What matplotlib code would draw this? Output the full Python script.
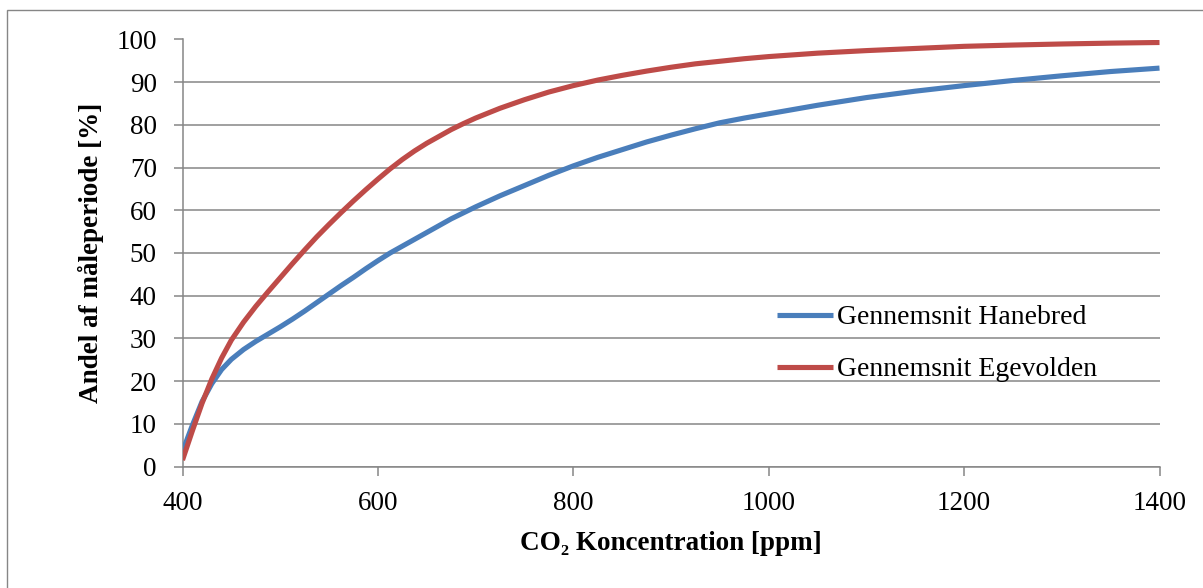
import matplotlib
matplotlib.use("Agg")
import matplotlib.pyplot as plt
from matplotlib.patches import Rectangle

# Data
co2_ppm = [400, 410, 420, 430, 440, 450, 462.5, 475, 487.5, 500, 512.5, 525, 537.5,
           550, 562.5, 575, 587.5, 600, 612.5, 625, 637.5, 650, 662.5, 675, 687.5,
           700, 725, 750, 775, 800, 825, 850, 875, 900, 925, 950, 975, 1000,
           1050, 1100, 1150, 1200, 1250, 1300, 1350, 1400]
hanebred = [3.5, 9.6, 15.2, 19.4, 22.7, 25.1, 27.4, 29.3, 31.0, 32.7, 34.5, 36.4, 38.4,
            40.4, 42.4, 44.3, 46.3, 48.2, 50.0, 51.6, 53.2, 54.8, 56.4, 58.0, 59.4,
            60.8, 63.4, 65.8, 68.2, 70.4, 72.4, 74.2, 76.0, 77.6, 79.1, 80.5, 81.6, 82.6,
            84.6, 86.4, 87.9, 89.2, 90.4, 91.5, 92.5, 93.3]
egevolden = [1.5, 8.3, 14.8, 20.5, 25.4, 29.6, 33.8, 37.5, 40.9, 44.2, 47.5, 50.7, 53.8,
             56.7, 59.5, 62.2, 64.8, 67.3, 69.7, 71.9, 73.9, 75.7, 77.3, 78.9, 80.3,
             81.6, 83.9, 85.9, 87.7, 89.2, 90.5, 91.6, 92.6, 93.5, 94.3, 94.9, 95.5, 96.0,
             96.8, 97.4, 97.9, 98.4, 98.7, 98.95, 99.15, 99.3]

series_names = ["Gennemsnit Hanebred", "Gennemsnit Egevolden"]
series_colors = ["#4A7EBB", "#BE4B48"]
x_ticks = [400, 600, 800, 1000, 1200, 1400]
y_ticks = list(range(0, 101, 10))

plt.rcParams['font.family'] = ['Liberation Serif', 'DejaVu Serif']

W, H = 1203, 588
fig = plt.figure(figsize=(W / 100, H / 100), dpi=100)
x0, x1, y0, y1 = 182.5, 1159.5, 466.5, 39.5
ax = fig.add_axes([x0 / W, 1 - y0 / H, (x1 - x0) / W, (y0 - y1) / H])

grid_c = "#868686"
for v in y_ticks:
    ax.axhline(v, color=grid_c, lw=1.1, zorder=1)

for y, name, c in zip([hanebred, egevolden], series_names, series_colors):
    ax.plot(co2_ppm, y, color=c, lw=3.7, label=name, zorder=3,
            solid_capstyle='butt', solid_joinstyle='round')

ax.set_xlim(400, 1400)
ax.set_ylim(0, 100)
ax.set_xticks(x_ticks)
ax.set_yticks(y_ticks)
ax.set_xticklabels([str(t) for t in x_ticks])
ax.set_yticklabels([str(t) for t in y_ticks])
for s in ["top", "right"]:
    ax.spines[s].set_visible(False)
for s in ["left", "bottom"]:
    ax.spines[s].set_color(grid_c)
    ax.spines[s].set_linewidth(1.1)
ax.tick_params(axis='both', direction='out', length=6.5, width=1.1, color=grid_c,
               labelsize=19.5, labelcolor='black')
ax.tick_params(axis='y', pad=12)
ax.tick_params(axis='x', pad=11)

ax.set_xlabel("CO\u2082 Koncentration [ppm]", fontsize=19.5, fontweight='bold', labelpad=11)
ax.set_ylabel("Andel af måleperiode [%]", fontsize=19.5, fontweight='bold', labelpad=9)

ax.legend(loc='upper left',
          bbox_to_anchor=((777 - x0) / (x1 - x0), (y0 - 305) / (y0 - y1)),
          frameon=False, fontsize=20, handlelength=2.0, handletextpad=0.15,
          labelspacing=0.95, borderaxespad=0, borderpad=0)

# outer chart frame
fig.patches.append(Rectangle((7 / W, -0.05), 1.2, 1 - 9.5 / H + 0.05, transform=fig.transFigure,
                             fill=False, edgecolor="#868686", lw=1.0, zorder=0))

fig.savefig("out.png", dpi=100, facecolor='white')
